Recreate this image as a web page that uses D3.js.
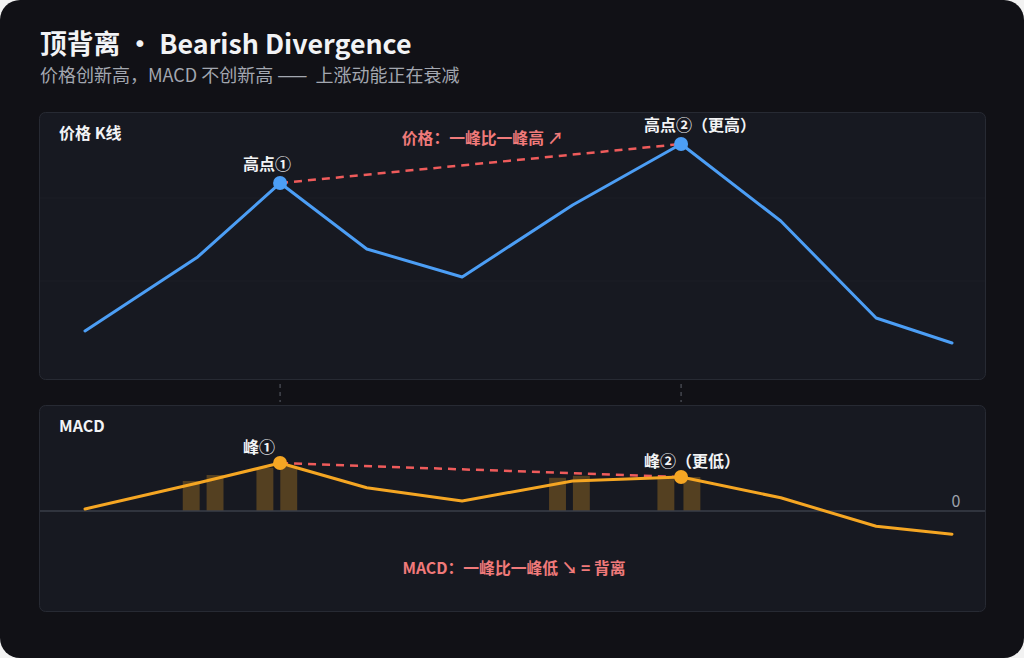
<!DOCTYPE html>
<html><head><meta charset="utf-8">
<script src="https://cdn.jsdelivr.net/npm/d3@7/dist/d3.min.js"></script>
<style>
html,body{margin:0;padding:0;background:#f2f2f2;}
svg{display:block;}
text{font-family:"Noto Sans CJK SC","Noto Sans",sans-serif;}
</style></head>
<body><svg id="c" width="1024" height="658"></svg>
<script>
// ---- data ----
const times      = [0, 5.2, 9, 13, 17.4, 22.5, 27.5, 32.1, 36.5, 40];
const prices     = [98.98, 107.9, 116.8, 108.86, 105.48, 114.16, 121.5, 112.23, 100.54, 97.53];
const macdValues = [0.05, 0.7, 1.2, 0.58, 0.25, 0.75, 0.85, 0.33, -0.38, -0.58];
const histTimes  = [4.9, 6.0, 8.3, 9.4, 21.8, 22.9, 26.8, 28.0];
const histValues = [0.75, 0.9, 1.08, 1.1, 0.83, 0.88, 0.88, 0.85];
const priceGrid  = [105, 115];
const peakIdx    = [2, 6];
const priceLabels = ["高点①", "高点②（更高）"];
const macdLabels  = ["峰①", "峰②（更低）"];
const zeroLabel = "0";
const titleText = "顶背离 · Bearish Divergence";
const subtitleParts = ["价格创新高，MACD 不创新高 ", "——", " 上涨动能正在衰减"];
const panelTitles = ["价格 K线", "MACD"];
const priceNote = "价格：一峰比一峰高 ↗";
const macdNote = "MACD：一峰比一峰低 ↘ = 背离";

// ---- style ----
const C = {card:"#111116", panel:"#171921", border:"#272a33", blue:"#4c9ef5", orange:"#f5a623",
  red:"#ef5b5b", note:"#f07a7a", text:"#f2f3f5", sub:"#a3a7b0", grid:"#1c1f27", zero:"#3a3e48"};

const svg = d3.select("#c");
svg.append("rect").attr("x",0).attr("y",0).attr("width",1024).attr("height",658).attr("rx",20).attr("fill",C.card);

svg.append("text").attr("x",40).attr("y",54).attr("fill",C.text).attr("font-size",26.8).attr("font-weight",700).text(titleText);
const sub = svg.append("text").attr("x",40).attr("y",82).attr("fill",C.sub).attr("font-size",18);
sub.selectAll("tspan").data(subtitleParts).join("tspan")
  .attr("letter-spacing",(d,i)=>i===1?4:0).text(d=>d);

const P1 = {x:39, y:112, w:946, h:267};
const P2 = {x:39, y:405, w:946, h:206};
[P1,P2].forEach((p,i)=>{
  svg.append("rect").attr("x",p.x+0.5).attr("y",p.y+0.5).attr("width",p.w).attr("height",p.h).attr("rx",6)
    .attr("fill",C.panel).attr("stroke",C.border).attr("stroke-width",1);
  svg.append("text").attr("x",59).attr("y",p.y+27).attr("fill",C.text).attr("font-size",16).attr("font-weight",700).text(panelTitles[i]);
});

const x = d3.scaleLinear().domain([0,40]).range([85,952]);
const yP = d3.scaleLinear().domain([95,125]).range([364,115]);
const yM = d3.scaleLinear().domain([-1.5,1.5]).range([571,451]);

// grid
svg.append("g").selectAll("line").data(priceGrid).join("line")
  .attr("x1",P1.x+1).attr("x2",P1.x+P1.w).attr("y1",d=>yP(d)).attr("y2",d=>yP(d))
  .attr("stroke",C.grid).attr("stroke-width",1);

// connectors
svg.append("g").selectAll("line").data(peakIdx).join("line")
  .attr("x1",i=>x(times[i])).attr("x2",i=>x(times[i])).attr("y1",384).attr("y2",402)
  .attr("stroke","#5d616b").attr("stroke-width",1).attr("stroke-dasharray","4,4");

// price line
const pts = times.map((t,i)=>[t,prices[i]]);
svg.append("path").datum(pts).attr("fill","none").attr("stroke",C.blue).attr("stroke-width",3)
  .attr("stroke-linejoin","round").attr("stroke-linecap","round")
  .attr("d", d3.line().x(d=>x(d[0])).y(d=>yP(d[1])));
svg.append("line").attr("x1",x(times[peakIdx[0]])).attr("y1",yP(prices[peakIdx[0]]))
  .attr("x2",x(times[peakIdx[1]])).attr("y2",yP(prices[peakIdx[1]]))
  .attr("stroke",C.red).attr("stroke-width",2.5).attr("stroke-dasharray","8,6");
svg.append("g").selectAll("circle").data(peakIdx).join("circle")
  .attr("cx",i=>x(times[i])).attr("cy",i=>yP(prices[i])).attr("r",7).attr("fill",C.blue);
svg.append("g").selectAll("text").data(peakIdx).join("text")
  .attr("x",i=>x(times[i])-37).attr("y",(i,k)=>yP(prices[i])-13)
  .attr("fill",C.text).attr("font-size",16).attr("font-weight",700).text((i,k)=>priceLabels[k]);
svg.append("text").attr("x",(x(times[peakIdx[0]])+x(times[peakIdx[1]]))/2+2).attr("y",144)
  .attr("text-anchor","middle").attr("fill",C.note).attr("font-size",15.8).attr("font-weight",700).text(priceNote);

// MACD
const bw = x(0.78)-x(0);
svg.append("g").selectAll("rect").data(histTimes).join("rect")
  .attr("x",t=>x(t)-bw/2).attr("width",bw)
  .attr("y",(t,i)=>yM(histValues[i])).attr("height",(t,i)=>yM(0)-yM(histValues[i]))
  .attr("fill",C.orange).attr("fill-opacity",0.28);
svg.append("line").attr("x1",P2.x+1).attr("x2",P2.x+P2.w).attr("y1",yM(0)).attr("y2",yM(0))
  .attr("stroke",C.zero).attr("stroke-width",1.5);
svg.append("text").attr("x",956).attr("y",yM(0)-4).attr("text-anchor","middle").attr("fill","#9ea3ac").attr("font-size",16).text(zeroLabel);
const mpts = times.map((t,i)=>[t,macdValues[i]]);
svg.append("line").attr("x1",x(times[peakIdx[0]])).attr("y1",yM(macdValues[peakIdx[0]]))
  .attr("x2",x(times[peakIdx[1]])).attr("y2",yM(macdValues[peakIdx[1]]))
  .attr("stroke",C.red).attr("stroke-width",2.5).attr("stroke-dasharray","8,6");
svg.append("path").datum(mpts).attr("fill","none").attr("stroke",C.orange).attr("stroke-width",3)
  .attr("stroke-linejoin","round").attr("stroke-linecap","round")
  .attr("d", d3.line().x(d=>x(d[0])).y(d=>yM(d[1])));
svg.append("g").selectAll("circle").data(peakIdx).join("circle")
  .attr("cx",i=>x(times[i])).attr("cy",i=>yM(macdValues[i])).attr("r",7).attr("fill",C.orange);
svg.append("g").selectAll("text").data(peakIdx).join("text")
  .attr("x",i=>x(times[i])-37).attr("y",i=>yM(macdValues[i])-10)
  .attr("fill",C.text).attr("font-size",16).attr("font-weight",700).text((i,k)=>macdLabels[k]);
svg.append("text").attr("x",P2.x+P2.w/2+2).attr("y",574)
  .attr("text-anchor","middle").attr("fill",C.note).attr("font-size",15.8).attr("font-weight",700).text(macdNote);
</script></body></html>
